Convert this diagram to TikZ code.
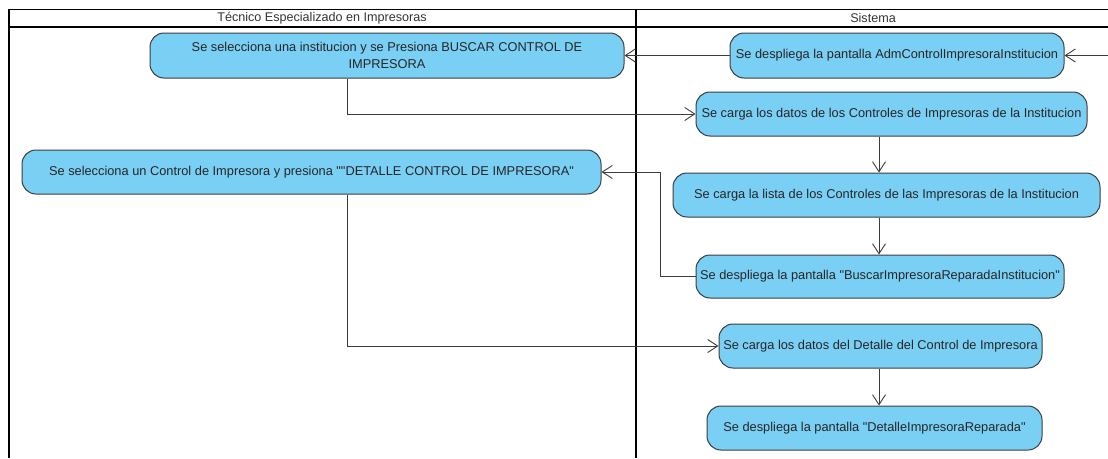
\documentclass[tikz,border=0pt]{standalone}
\usepackage{fontspec}
\setmainfont{Liberation Sans}[Ligatures=TeXOff]
\usetikzlibrary{arrows.meta}
\definecolor{actblue}{RGB}{122,207,245}
\definecolor{actline}{RGB}{60,60,60}

\begin{document}
\begin{tikzpicture}[
        x=1pt, y=-1pt,
        act/.style={rectangle, draw=actline, line width=1pt, rounded corners=14pt, fill=actblue, minimum height=44pt, inner sep=0pt, align=center, font=\fontsize{12.8}{17}\selectfont, text=black!85},
        flow/.style={-{Straight Barb[length=10pt, width=13pt]}, draw=actline, line width=0.9pt},
        lane/.style={draw=black, line width=1.8pt},
        lanetitle/.style={font=\fontsize{12.6}{14}\selectfont, inner sep=0pt, text=black!80}
    ]
        \useasboundingbox (0,0) rectangle (1108,458);

        % Swimlanes
        \draw[lane] (1108,9.5) -- (9,9.5) -- (9,458);
        \draw[lane] (9,27) -- (1108,27);
        \draw[lane] (636,9.5) -- (636,458);
        \node[lanetitle] (tecnico) at (322,18) {Técnico Especializado en Impresoras};
        \node[lanetitle] (sistema) at (873,18) {Sistema};

        % Nodes
        \node[act, minimum width=474pt, minimum height=45pt] (selInst) at (387,55.5) {Se selecciona una institucion y se Presiona BUSCAR CONTROL DE \\ IMPRESORA};
        \node[act, minimum width=334pt, minimum height=45pt] (despAdm) at (897,55.5) {Se despliega la pantalla AdmControlImpresoraInstitucion};
        \node[act, minimum width=391pt] (cargaDatos) at (891.5,114) {Se carga los datos de los Controles de Impresoras de la Institucion};
        \node[act, minimum width=427pt] (cargaLista) at (886.5,195) {Se carga la lista de los Controles de las Impresoras de la Institucion};
        \node[act, minimum width=579pt] (selControl) at (311.5,172) {Se selecciona un Control de Impresora y presiona ""DETALLE CONTROL DE IMPRESORA"};
        \node[act, minimum width=368pt, minimum height=43pt] (despBuscar) at (880,276.5) {Se despliega la pantalla "BuscarImpresoraReparadaInstitucion"};
        \node[act, minimum width=323pt] (cargaDetalle) at (880.5,346) {Se carga los datos del Detalle del Control de Impresora};
        \node[act, minimum width=335pt] (despDetalle) at (874.5,428) {Se despliega la pantalla "DetalleImpresoraReparada"};

        % Helper points
        \coordinate (inicio) at (1108,55.5);
        \coordinate (leftAxis) at (347,0);
        \coordinate (rightAxis) at (879,0);
        \coordinate (backBend) at (660,0);

        % Arrows
        \draw[flow] (inicio) -- (despAdm.east);
        \draw[flow] (despAdm.west) -- (selInst.east);
        \draw[flow] (selInst.south -| leftAxis) |- (cargaDatos.west);
        \draw[flow] (cargaDatos.south -| rightAxis) -- (cargaLista.north -| rightAxis);
        \draw[flow] (cargaLista.south -| rightAxis) -- (despBuscar.north -| rightAxis);
        \draw[flow] (despBuscar.west) -- (despBuscar.west -| backBend) |- (selControl.east);
        \draw[flow] (selControl.south -| leftAxis) |- (cargaDetalle.west);
        \draw[flow] (cargaDetalle.south -| rightAxis) -- (despDetalle.north -| rightAxis);

    \end{tikzpicture}
\end{document}
